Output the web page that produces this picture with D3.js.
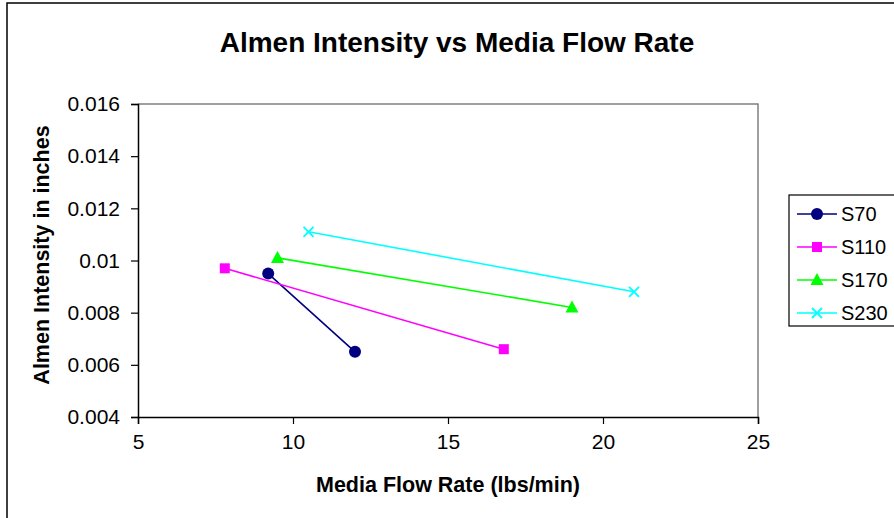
<!DOCTYPE html>
<html>
<head>
<meta charset="utf-8">
<script src="https://cdn.jsdelivr.net/npm/d3@7/dist/d3.min.js"></script>
<style>
  html, body { margin: 0; padding: 0; background: #fff; }
  svg { display: block; font-family: "Liberation Sans", Arial, sans-serif; }
</style>
</head>
<body>
<svg id="chart" width="894" height="518"></svg>
<script>
// ---- Data ----
const seriesNames = ["S70", "S110", "S170", "S230"];
const s70x = [9.2, 12.0];
const s70y = [0.0095, 0.0065];
const s110x = [7.8, 16.8];
const s110y = [0.0097, 0.0066];
const s170x = [9.5, 19.0];
const s170y = [0.0101, 0.0082];
const s230x = [10.5, 21.0];
const s230y = [0.0111, 0.0088];
const xTicks = [5, 10, 15, 20, 25];
const yTicks = [0.004, 0.006, 0.008, 0.01, 0.012, 0.014, 0.016];
const yTickLabels = ["0.004", "0.006", "0.008", "0.01", "0.012", "0.014", "0.016"];

const colors = ["#000080", "#FF00FF", "#00FF00", "#00FFFF"];
const markers = ["circle", "square", "triangle", "x"];
const series = [
  {name: seriesNames[0], xs: s70x, ys: s70y},
  {name: seriesNames[1], xs: s110x, ys: s110y},
  {name: seriesNames[2], xs: s170x, ys: s170y},
  {name: seriesNames[3], xs: s230x, ys: s230y}
];

const svg = d3.select("#chart");

// outer border
svg.append("rect").attr("x", 7).attr("y", 3).attr("width", 900).attr("height", 530)
  .attr("fill", "#fff").attr("stroke", "#000").attr("stroke-width", 1.5);

const plot = {left: 138, top: 104, right: 758, bottom: 417};
const x = d3.scaleLinear().domain([5, 25]).range([plot.left, plot.right]);
const y = d3.scaleLinear().domain([0.004, 0.016]).range([plot.bottom, plot.top]);

// plot area frame (gray top/right)
svg.append("path")
  .attr("d", `M${plot.left},${plot.top}H${plot.right}V${plot.bottom}`)
  .attr("fill", "none").attr("stroke", "#808080").attr("stroke-width", 1.5);

// axes
const xAxis = d3.axisBottom(x).tickValues(xTicks).tickSize(7).tickPadding(10).tickFormat(d3.format("d"));
const gx = svg.append("g").attr("transform", `translate(0,${plot.bottom})`).call(xAxis);
const yAxis = d3.axisLeft(y).tickValues(yTicks).tickSize(7).tickPadding(11)
  .tickFormat((d, i) => yTickLabels[i]);
const gy = svg.append("g").attr("transform", `translate(${plot.left},0)`).call(yAxis);
[gx, gy].forEach(g => {
  g.select(".domain").attr("stroke", "#000").attr("stroke-width", 1.5);
  g.selectAll(".tick line").attr("stroke", "#000").attr("stroke-width", 1.2);
  g.selectAll(".tick text").attr("fill", "#000").style("font-size", "21px")
    .style("font-family", "'Liberation Sans', Arial, sans-serif");
});
gx.selectAll(".tick text").attr("dy", "0.71em");

// marker drawing
function drawMarker(g, type, cx, cy, color) {
  if (type === "circle") {
    g.append("circle").attr("cx", cx).attr("cy", cy).attr("r", 6).attr("fill", color);
  } else if (type === "square") {
    g.append("rect").attr("x", cx - 5).attr("y", cy - 5).attr("width", 10).attr("height", 10).attr("fill", color);
  } else if (type === "triangle") {
    g.append("path").attr("d", `M${cx},${cy - 7}L${cx + 6.5},${cy + 5}L${cx - 6.5},${cy + 5}Z`).attr("fill", color);
  } else if (type === "x") {
    g.append("path").attr("d", `M${cx - 5},${cy - 5}L${cx + 5},${cy + 5}M${cx - 5},${cy + 5}L${cx + 5},${cy - 5}`)
      .attr("stroke", color).attr("stroke-width", 1.8).attr("fill", "none");
  }
}

const line = d3.line().x(d => x(d[0])).y(d => y(d[1]));
series.forEach((s, i) => {
  const pts = s.xs.map((v, j) => [v, s.ys[j]]);
  const g = svg.append("g");
  g.append("path").attr("d", line(pts)).attr("fill", "none")
    .attr("stroke", colors[i]).attr("stroke-width", 1.6);
  pts.forEach(p => drawMarker(g, markers[i], x(p[0]), y(p[1]), colors[i]));
});

// titles
svg.append("text").attr("x", 457).attr("y", 52).attr("text-anchor", "middle")
  .style("font-size", "28px").style("font-weight", "bold").text("Almen Intensity vs Media Flow Rate");
svg.append("text").attr("x", 448).attr("y", 492).attr("text-anchor", "middle")
  .style("font-size", "21.5px").style("font-weight", "bold").text("Media Flow Rate (lbs/min)");
svg.append("text").attr("transform", "translate(49,255) rotate(-90)").attr("text-anchor", "middle")
  .style("font-size", "21.5px").style("font-weight", "bold").text("Almen Intensity in inches");

// legend
const lg = svg.append("g");
lg.append("rect").attr("x", 789).attr("y", 195).attr("width", 130).attr("height", 131)
  .attr("fill", "#fff").attr("stroke", "#000").attr("stroke-width", 1.2);
const rowY = [214, 247, 280, 313];
series.forEach((s, i) => {
  const ry = rowY[i];
  lg.append("line").attr("x1", 797).attr("x2", 837).attr("y1", ry).attr("y2", ry)
    .attr("stroke", colors[i]).attr("stroke-width", 1.6);
  drawMarker(lg, markers[i], 817, ry, colors[i]);
  lg.append("text").attr("x", 841).attr("y", ry).attr("dy", "0.36em")
    .style("font-size", "20px").text(s.name);
});
</script>
</body>
</html>
